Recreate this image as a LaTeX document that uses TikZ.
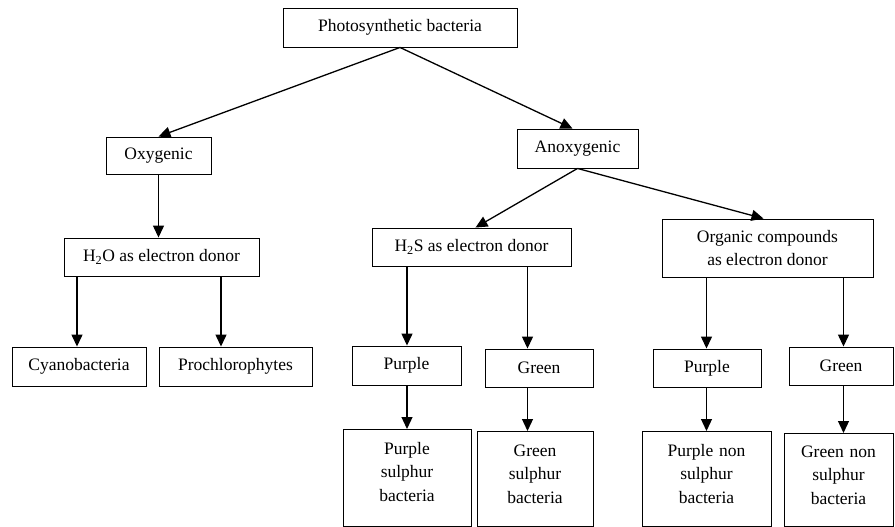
\documentclass[tikz,border=0pt]{standalone}
\usepackage{fontspec}
\setmainfont{Liberation Serif}
\usetikzlibrary{arrows.meta}
\begin{document}
\begin{tikzpicture}[x=1pt,y=-1pt,
  box/.style={draw=black, line width=0.9pt, inner sep=0pt,
    font=\fontsize{17.5}{23.5}\selectfont, align=center},
  tallbox/.style={box, anchor=north, text height=25pt},
  arr/.style={line width=1.3pt, -{Triangle[length=12pt,width=11pt]}}]
\useasboundingbox (0,0) rectangle (895,527);

% level 0
\node[box, minimum width=234pt, minimum height=39pt] (top) at (400,27.5) {Photosynthetic bacteria};
% level 1
\node[box, minimum width=105pt, minimum height=37pt] (oxy) at (158.5,155.5) {Oxygenic};
\node[box, minimum width=121pt, minimum height=39pt] (anoxy) at (577.5,148.5) {Anoxygenic};
% level 2
\node[box, minimum width=195pt, minimum height=38pt] (h2o) at (161.5,257) {H\textsubscript{2}O as electron donor};
\node[box, minimum width=199pt, minimum height=38pt] (h2s) at (471.5,247) {H\textsubscript{2}S as electron donor};
\node[box, minimum width=211pt, minimum height=58pt] (org) at (767.5,248) {Organic compounds\\as electron donor};
% level 3
\node[box, minimum width=134pt, minimum height=39pt] (cyano) at (79,366.5) {Cyanobacteria};
\node[box, minimum width=153pt, minimum height=39pt] (proch) at (235.5,366.5) {Prochlorophytes};
\node[box, minimum width=109pt, minimum height=39pt] (p1) at (406.5,365.5) {Purple};
\node[box, minimum width=108pt, minimum height=38pt] (g1) at (539,368) {Green};
\node[box, minimum width=108pt, minimum height=38pt] (p2) at (707,368) {Purple};
\node[box, minimum width=104pt, minimum height=38pt] (g2) at (841,366) {Green};
% level 4
\node[tallbox, text width=128pt, text depth=72pt] (ps) at (407,429) {Purple\\sulphur\\bacteria};
\node[tallbox, text width=116pt, text depth=70pt] (gs) at (535,431) {Green\\sulphur\\bacteria};
\node[tallbox, text width=129pt, text depth=70pt] (pns) at (706.5,431) {Purple non\\sulphur\\bacteria};
\node[tallbox, text width=109pt, text height=24pt, text depth=69pt] (gns) at (838.5,433) {Green non\\sulphur\\bacteria};

% x positions of vertical connectors
\coordinate (xa) at (77,0);
\coordinate (xb) at (221,0);
\coordinate (xc) at (407,0);
\coordinate (xd) at (527.5,0);
\coordinate (xe) at (706.5,0);
\coordinate (xf) at (843.5,0);

% connectors
\draw[arr] (top.south) -- (oxy.north);
\draw[arr] (top.south) -- ([xshift=-5pt]anoxy.north);
\draw[arr] (oxy.south) -- (oxy.south |- h2o.north);
\draw[arr] (anoxy.south) -- ([xshift=4pt]h2s.north);
\draw[arr] (anoxy.south) -- ([xshift=-4pt]org.north);

\draw[arr] (h2o.south -| xa) -- (cyano.north -| xa);
\draw[arr] (h2o.south -| xb) -- (proch.north -| xb);
\draw[arr] (h2s.south -| xc) -- (p1.north -| xc);
\draw[arr] (h2s.south -| xd) -- (g1.north -| xd);
\draw[arr] (org.south -| xe) -- (p2.north -| xe);
\draw[arr] (org.south -| xf) -- (g2.north -| xf);

\draw[arr] (p1.south -| xc) -- (ps.north -| xc);
\draw[arr] (g1.south -| xd) -- (gs.north -| xd);
\draw[arr] (p2.south -| xe) -- (pns.north -| xe);
\draw[arr] (g2.south -| xf) -- (gns.north -| xf);
\end{tikzpicture}
\end{document}
